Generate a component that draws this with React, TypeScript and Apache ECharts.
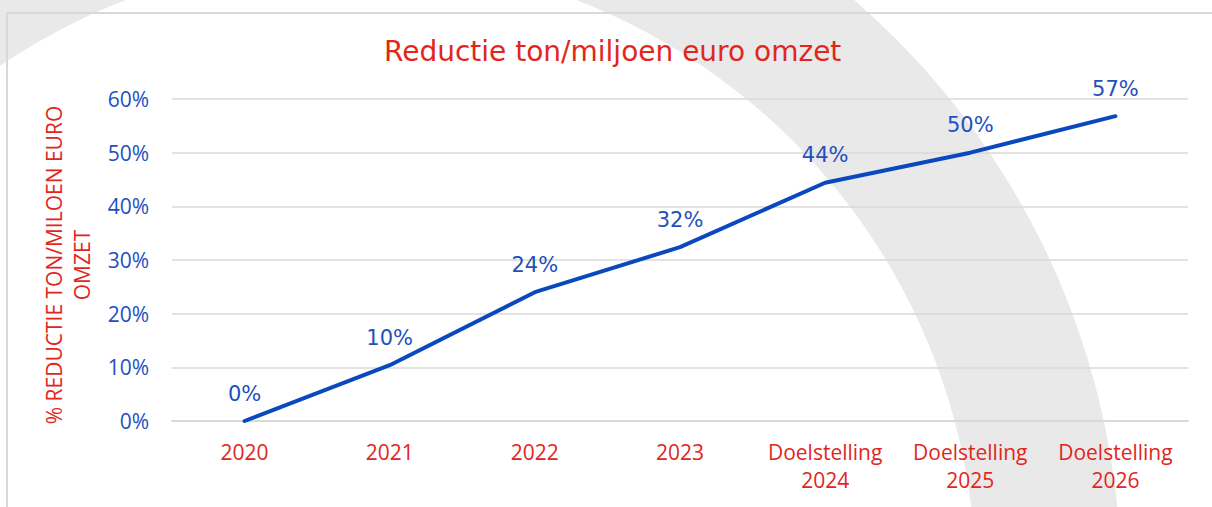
import React, { useEffect, useRef } from "react";
import * as echarts from "echarts";

const categories = ["2020", "2021", "2022", "2023", "Doelstelling\n2024", "Doelstelling\n2025", "Doelstelling\n2026"];
const reduction = [0, 0.104, 0.24, 0.324, 0.444, 0.5, 0.568];
const titleText = "Reductie ton/miljoen euro omzet";
const yAxisName = "% REDUCTIE TON/MILOEN EURO\nOMZET";

const RED = "#E2261C";
const BLUE = "#1E50C0";
const LINE = "#0A48BE";
const GRID = "#D9D9D9";

export default function App() {
  const ref = useRef<HTMLDivElement>(null);
  useEffect(() => {
    if (!ref.current) return;
    const chart = echarts.init(ref.current, null, { renderer: "svg" });
    chart.setOption({
      animation: false,
      backgroundColor: "#ffffff",
      title: {
        text: titleText,
        left: 379,
        top: 32,
        textStyle: { color: RED, fontFamily: "DejaVu Sans", fontSize: 28, fontWeight: "normal" },
      },
      graphic: [
        {
          type: "ring",
          z: -10,
          silent: true,
          shape: { cx: 351, cy: 583, r: 770, r0: 625 },
          style: { fill: "#E9E9E9" },
        },
        {
          type: "rect",
          z: -5,
          silent: true,
          shape: { x: 7, y: 13, width: 1400, height: 700 },
          style: { fill: "none", stroke: GRID, lineWidth: 2 },
        },
      ],
      grid: { left: 172, right: 24, top: 99, bottom: 86, containLabel: false },
      xAxis: {
        type: "category",
        data: categories,
        boundaryGap: true,
        axisLine: { show: true, lineStyle: { color: GRID, width: 2 } },
        axisTick: { show: false },
        axisLabel: {
          color: RED,
          fontFamily: "Open Sans",
          fontSize: 21,
          lineHeight: 28,
          margin: 17,
          interval: 0,
        },
      },
      yAxis: {
        type: "value",
        min: 0,
        max: 0.6,
        interval: 0.1,
        name: yAxisName,
        nameLocation: "middle",
        nameRotate: 90,
        nameGap: 76,
        nameTextStyle: { color: RED, fontFamily: "Open Sans", fontSize: 21, lineHeight: 28, padding: [0, 10, 0, 0] },
        axisLine: { show: false },
        axisTick: { show: false },
        axisLabel: {
          color: BLUE,
          fontFamily: "Open Sans",
          fontSize: 21,
          margin: 23,
          formatter: (v: number) => `${Math.round(v * 100)}%`,
        },
        splitLine: { show: true, lineStyle: { color: GRID, width: 1.5 } },
      },
      series: [
        {
          type: "line",
          data: reduction,
          symbol: "circle",
          symbolSize: 0,
          showSymbol: true,
          lineStyle: { color: LINE, width: 4, cap: "round", join: "round" },
          itemStyle: { color: LINE },
          label: {
            show: true,
            position: "top",
            distance: 17,
            color: BLUE,
            fontFamily: "DejaVu Sans",
            fontSize: 21,
            formatter: (p: any) => `${Math.round(p.value * 100)}%`,
          },
        },
      ],
    });
    return () => chart.dispose();
  }, []);
  return <div ref={ref} style={{ position: "fixed", left: 0, top: 0, width: 1212, height: 507 }} />;
}
